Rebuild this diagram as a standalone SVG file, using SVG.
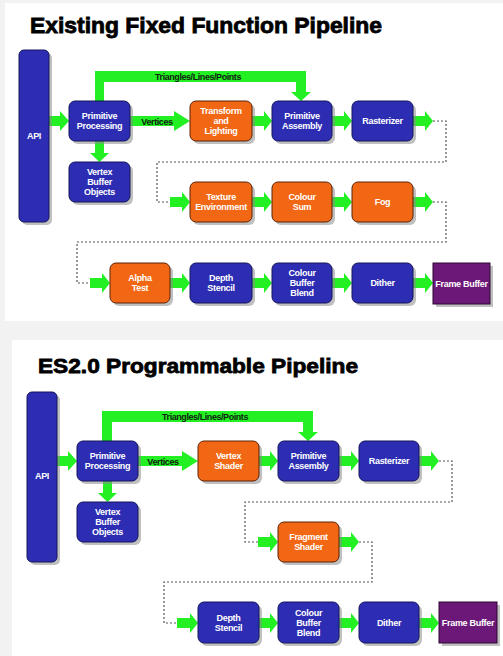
<svg xmlns="http://www.w3.org/2000/svg" width="503" height="656" viewBox="0 0 503 656">
<defs>
<style>
.bg{fill:#f2f2f2}
.panel{fill:#ffffff}
.title{font-family:"Liberation Sans",Arial,sans-serif;font-weight:bold;fill:#000;stroke:#000;stroke-width:0.8}
.sh{fill:#8c8c8c;opacity:0.55}
.blue{fill:#2d2db4;stroke:#15155a;stroke-width:1}
.orange{fill:#f26714;stroke:#5a2208;stroke-width:1}
.purple{fill:#6c1878;stroke:#2a0830;stroke-width:1}
.lbl{font-family:"Liberation Sans",Arial,sans-serif;font-weight:bold;font-size:9px;fill:#ffffff;text-anchor:middle;letter-spacing:-0.3px}
.dark{font-family:"Liberation Sans",Arial,sans-serif;font-weight:bold;font-size:9px;fill:#102010;text-anchor:middle;letter-spacing:-0.4px}
.arr{fill:#22f022}
.dot{fill:none;stroke:#555;stroke-width:1.2;stroke-dasharray:2 2}
</style>
</defs>
<rect class="bg" x="0" y="0" width="503" height="656"/>
<rect class="panel" x="5" y="3" width="498" height="318"/>
<rect class="panel" x="12" y="340" width="491" height="316"/>

<text class="title" x="30" y="33" font-size="22" textLength="352" lengthAdjust="spacingAndGlyphs">Existing Fixed Function Pipeline</text>
<text class="title" x="38" y="373" font-size="21" textLength="320" lengthAdjust="spacingAndGlyphs">ES2.0 Programmable Pipeline</text>

<g id="connectors">
<!-- top diagram -->
<polygon class="arr" points="95,101 95,71 306,71 306,92 311,92 301,101 291,92 296,92 296,82 104,82 104,101"/>
<text class="dark" x="198" y="80" textLength="86" lengthAdjust="spacingAndGlyphs">Triangles/Lines/Points</text>
<polygon class="arr" points="49,116 60,116 60,111 69,121 60,131 60,126 49,126"/>
<polygon class="arr" points="130,116 174,116 174,111 190,121 174,131 174,126 130,126"/>
<text class="dark" x="157" y="125">Vertices</text>
<polygon class="arr" points="252,116 264,116 264,111 272,121 264,131 264,126 252,126"/>
<polygon class="arr" points="332,116 344,116 344,111 352,121 344,131 344,126 332,126"/>
<polygon class="arr" points="413,116 425,116 425,111 433,121 425,131 425,126 413,126"/>
<polygon class="arr" points="95,141 104,141 104,153 109,153 99.5,162 90,153 95,153"/>
<path class="dot" d="M433,121 H446 V162 H157 V202 H170"/>
<polygon class="arr" points="170,197 182,197 182,192 190,202 182,212 182,207 170,207"/>
<polygon class="arr" points="252,197 264,197 264,192 272,202 264,212 264,207 252,207"/>
<polygon class="arr" points="332,197 344,197 344,192 352,202 344,212 344,207 332,207"/>
<polygon class="arr" points="413,197 425,197 425,192 433,202 425,212 425,207 413,207"/>
<path class="dot" d="M433,202 H446 V242 H77 V283 H90"/>
<polygon class="arr" points="90,278 102,278 102,273 110,283 102,293 102,288 90,288"/>
<polygon class="arr" points="170,278 182,278 182,273 190,283 182,293 182,288 170,288"/>
<polygon class="arr" points="252,278 264,278 264,273 272,283 264,293 264,288 252,288"/>
<polygon class="arr" points="332,278 344,278 344,273 352,283 344,293 344,288 332,288"/>
<polygon class="arr" points="413,278 425,278 425,273 433,283 425,293 425,288 413,288"/>
<!-- bottom diagram -->
<polygon class="arr" points="102,441 102,411 313,411 313,432 318,432 308,441 298,432 303,432 303,422 112,422 112,441"/>
<text class="dark" x="205" y="420" textLength="86" lengthAdjust="spacingAndGlyphs">Triangles/Lines/Points</text>
<polygon class="arr" points="57,456 68,456 68,451 77,461 68,471 68,466 57,466"/>
<polygon class="arr" points="138,456 182,456 182,451 198,461 182,471 182,466 138,466"/>
<text class="dark" x="163" y="465">Vertices</text>
<polygon class="arr" points="259,456 270,456 270,451 278,461 270,471 270,466 259,466"/>
<polygon class="arr" points="339,456 351,456 351,451 359,461 351,471 351,466 339,466"/>
<polygon class="arr" points="419,456 431,456 431,451 439,461 431,471 431,466 419,466"/>
<polygon class="arr" points="103,481 112,481 112,493 117,493 107.5,502 98,493 103,493"/>
<path class="dot" d="M439,461 H452 V502 H245 V542 H258"/>
<polygon class="arr" points="258,537 270,537 270,532 278,542 270,552 270,547 258,547"/>
<polygon class="arr" points="339,537 351,537 351,532 359,542 351,552 351,547 339,547"/>
<path class="dot" d="M359,542 H372 V582 H164 V623 H177"/>
<polygon class="arr" points="177,618 190,618 190,613 198,623 190,633 190,628 177,628"/>
<polygon class="arr" points="259,618 270,618 270,613 278,623 270,633 270,628 259,628"/>
<polygon class="arr" points="339,618 351,618 351,613 359,623 351,633 351,628 339,628"/>
<polygon class="arr" points="419,618 431,618 431,613 439,623 431,633 431,628 419,628"/>
</g>

<!-- top nodes -->
<g id="t-api"><rect class="sh" x="22" y="53" width="30" height="172" rx="5"/><rect class="blue" x="19" y="50" width="30" height="172" rx="5"/><text class="lbl" x="34" y="139">API</text></g>
<g id="t-pp"><rect class="sh" x="72" y="104" width="61" height="40" rx="6"/><rect class="blue" x="69" y="101" width="61" height="40" rx="6"/><text class="lbl" x="99.5" y="119.2">Primitive</text><text class="lbl" x="99.5" y="129.2">Processing</text></g>
<g id="t-vbo"><rect class="sh" x="72" y="165" width="61" height="40" rx="6"/><rect class="blue" x="69" y="162" width="61" height="40" rx="6"/><text class="lbl" x="99.5" y="175.2">Vertex</text><text class="lbl" x="99.5" y="185.2">Buffer</text><text class="lbl" x="99.5" y="195.2">Objects</text></g>
<g id="t-tl"><rect class="sh" x="193" y="104" width="62" height="40" rx="6"/><rect class="orange" x="190" y="101" width="62" height="40" rx="6"/><text class="lbl" x="221" y="114.2">Transform</text><text class="lbl" x="221" y="124.2">and</text><text class="lbl" x="221" y="134.2">Lighting</text></g>
<g id="t-pa"><rect class="sh" x="275" y="104" width="60" height="40" rx="6"/><rect class="blue" x="272" y="101" width="60" height="40" rx="6"/><text class="lbl" x="302" y="119.2">Primitive</text><text class="lbl" x="302" y="129.2">Assembly</text></g>
<g id="t-ras"><rect class="sh" x="355" y="104" width="61" height="40" rx="6"/><rect class="blue" x="352" y="101" width="61" height="40" rx="6"/><text class="lbl" x="382.5" y="124.2">Rasterizer</text></g>
<g id="t-te"><rect class="sh" x="193" y="185" width="62" height="40" rx="6"/><rect class="orange" x="190" y="182" width="62" height="40" rx="6"/><text class="lbl" x="221" y="200.2">Texture</text><text class="lbl" x="221" y="210.2">Environment</text></g>
<g id="t-cs"><rect class="sh" x="275" y="185" width="60" height="40" rx="6"/><rect class="orange" x="272" y="182" width="60" height="40" rx="6"/><text class="lbl" x="302" y="200.2">Colour</text><text class="lbl" x="302" y="210.2">Sum</text></g>
<g id="t-fog"><rect class="sh" x="355" y="185" width="61" height="40" rx="6"/><rect class="orange" x="352" y="182" width="61" height="40" rx="6"/><text class="lbl" x="382.5" y="205.2">Fog</text></g>
<g id="t-at"><rect class="sh" x="113" y="266" width="60" height="40" rx="6"/><rect class="orange" x="110" y="263" width="60" height="40" rx="6"/><text class="lbl" x="140" y="281.2">Alpha</text><text class="lbl" x="140" y="291.2">Test</text></g>
<g id="t-ds"><rect class="sh" x="193" y="266" width="62" height="40" rx="6"/><rect class="blue" x="190" y="263" width="62" height="40" rx="6"/><text class="lbl" x="221" y="281.2">Depth</text><text class="lbl" x="221" y="291.2">Stencil</text></g>
<g id="t-cbb"><rect class="sh" x="275" y="266" width="60" height="40" rx="6"/><rect class="blue" x="272" y="263" width="60" height="40" rx="6"/><text class="lbl" x="302" y="276.2">Colour</text><text class="lbl" x="302" y="286.2">Buffer</text><text class="lbl" x="302" y="296.2">Blend</text></g>
<g id="t-di"><rect class="sh" x="355" y="266" width="61" height="40" rx="6"/><rect class="blue" x="352" y="263" width="61" height="40" rx="6"/><text class="lbl" x="382.5" y="286.2">Dither</text></g>
<g id="t-fb"><rect class="sh" x="436" y="266" width="57" height="41"/><rect class="purple" x="433" y="263" width="57" height="41"/><text class="lbl" x="461.5" y="286.7">Frame Buffer</text></g>

<!-- bottom nodes -->
<g id="b-api"><rect class="sh" x="30" y="395" width="30" height="170" rx="5"/><rect class="blue" x="27" y="392" width="30" height="170" rx="5"/><text class="lbl" x="42" y="479">API</text></g>
<g id="b-pp"><rect class="sh" x="80" y="444" width="61" height="40" rx="6"/><rect class="blue" x="77" y="441" width="61" height="40" rx="6"/><text class="lbl" x="107.5" y="459.2">Primitive</text><text class="lbl" x="107.5" y="469.2">Processing</text></g>
<g id="b-vbo"><rect class="sh" x="80" y="505" width="61" height="40" rx="6"/><rect class="blue" x="77" y="502" width="61" height="40" rx="6"/><text class="lbl" x="107.5" y="515.2">Vertex</text><text class="lbl" x="107.5" y="525.2">Buffer</text><text class="lbl" x="107.5" y="535.2">Objects</text></g>
<g id="b-vs"><rect class="sh" x="201" y="444" width="61" height="40" rx="6"/><rect class="orange" x="198" y="441" width="61" height="40" rx="6"/><text class="lbl" x="228.5" y="459.2">Vertex</text><text class="lbl" x="228.5" y="469.2">Shader</text></g>
<g id="b-pa"><rect class="sh" x="281" y="444" width="61" height="40" rx="6"/><rect class="blue" x="278" y="441" width="61" height="40" rx="6"/><text class="lbl" x="308.5" y="459.2">Primitive</text><text class="lbl" x="308.5" y="469.2">Assembly</text></g>
<g id="b-ras"><rect class="sh" x="362" y="444" width="60" height="40" rx="6"/><rect class="blue" x="359" y="441" width="60" height="40" rx="6"/><text class="lbl" x="389" y="464.2">Rasterizer</text></g>
<g id="b-fs"><rect class="sh" x="281" y="525" width="61" height="40" rx="6"/><rect class="orange" x="278" y="522" width="61" height="40" rx="6"/><text class="lbl" x="308.5" y="540.2">Fragment</text><text class="lbl" x="308.5" y="550.2">Shader</text></g>
<g id="b-ds"><rect class="sh" x="201" y="605" width="61" height="41" rx="6"/><rect class="blue" x="198" y="602" width="61" height="41" rx="6"/><text class="lbl" x="228.5" y="620.7">Depth</text><text class="lbl" x="228.5" y="630.7">Stencil</text></g>
<g id="b-cbb"><rect class="sh" x="281" y="605" width="61" height="41" rx="6"/><rect class="blue" x="278" y="602" width="61" height="41" rx="6"/><text class="lbl" x="308.5" y="615.7">Colour</text><text class="lbl" x="308.5" y="625.7">Buffer</text><text class="lbl" x="308.5" y="635.7">Blend</text></g>
<g id="b-di"><rect class="sh" x="362" y="605" width="60" height="41" rx="6"/><rect class="blue" x="359" y="602" width="60" height="41" rx="6"/><text class="lbl" x="389" y="625.7">Dither</text></g>
<g id="b-fb"><rect class="sh" x="442" y="605" width="58" height="41"/><rect class="purple" x="439" y="602" width="58" height="41"/><text class="lbl" x="468" y="625.7">Frame Buffer</text></g>
</svg>
